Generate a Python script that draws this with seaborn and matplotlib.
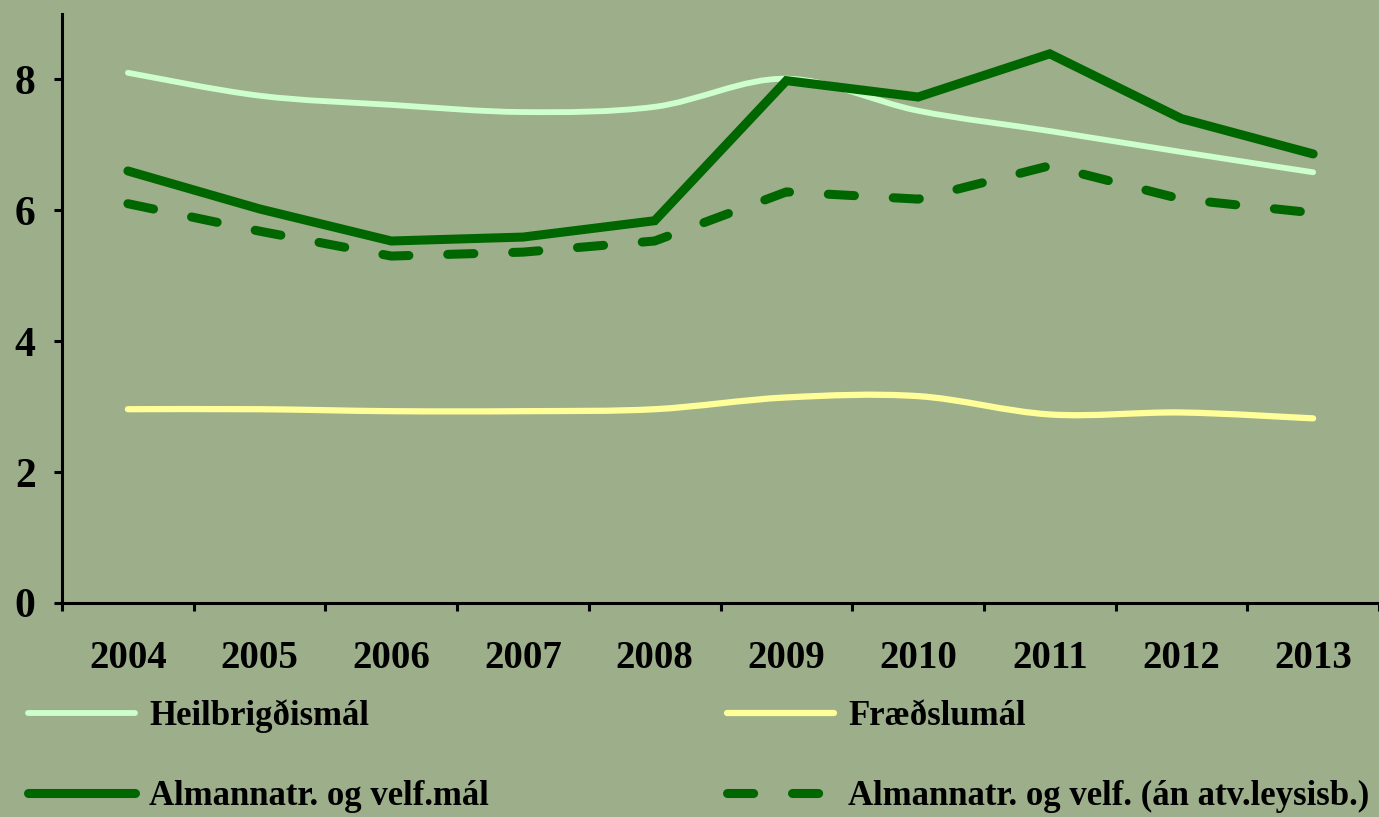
import numpy as np
import pandas as pd
import matplotlib
matplotlib.use("Agg")
import matplotlib.pyplot as plt
from matplotlib.path import Path
from matplotlib.patches import PathPatch
from matplotlib.lines import Line2D
import seaborn as sns

# values
years = ['2004', '2005', '2006', '2007', '2008', '2009', '2010', '2011', '2012', '2013']
heilbrigdismal = [8.10, 7.75, 7.61, 7.50, 7.58, 8.01, 7.52, 7.21, 6.89, 6.58]
fraedslumal = [2.96, 2.96, 2.93, 2.93, 2.96, 3.14, 3.16, 2.88, 2.91, 2.82]
almannatr = [6.60, 6.02, 5.53, 5.59, 5.84, 7.98, 7.73, 8.39, 7.40, 6.86]
almannatr_an = [6.10, 5.68, 5.30, 5.36, 5.53, 6.28, 6.17, 6.68, 6.17, 5.96]

labels = ['Heilbrigðismál', 'Fræðslumál',
          'Almannatr. og velf.mál', 'Almannatr. og velf. (án atv.leysisb.)']

BG = '#9cae8a'
C_LIGHT = '#ccffcc'
C_YELLOW = '#ffff99'
C_DARK = '#006600'

df = pd.DataFrame({'pos': np.arange(len(years)), 'year': years,
                   'heil': heilbrigdismal, 'fraed': fraedslumal,
                   'alm': almannatr, 'alm_an': almannatr_an})


def smooth_path(xs, ys):
    # Excel-style smoothed line: Catmull-Rom through the data points as cubic Beziers
    pts = np.column_stack([xs, ys]).astype(float)
    n = len(pts)
    verts = [pts[0]]
    codes = [Path.MOVETO]
    for i in range(n - 1):
        p0 = pts[max(i - 1, 0)]
        p1 = pts[i]
        p2 = pts[i + 1]
        p3 = pts[min(i + 2, n - 1)]
        verts += [p1 + (p2 - p0) / 6, p2 - (p3 - p1) / 6, p2]
        codes += [Path.CURVE4] * 3
    return Path(verts, codes)


sns.set_theme(style="ticks", rc={'axes.facecolor': BG, 'figure.facecolor': BG})
plt.rcParams['font.family'] = ['Liberation Serif', 'DejaVu Serif']
plt.rcParams['font.weight'] = 'bold'
plt.rcParams['text.color'] = 'black'
plt.rcParams['xtick.color'] = 'black'
plt.rcParams['ytick.color'] = 'black'
plt.rcParams['xtick.labelcolor'] = 'black'
plt.rcParams['ytick.labelcolor'] = 'black'

fig = plt.figure(figsize=(13.79, 8.17), dpi=100)
ax = fig.add_axes([0.045, 0.262, 0.955, 0.721])

# smoothed series
ax.add_patch(PathPatch(smooth_path(df['pos'], df['heil']), fill=False,
                       edgecolor=C_LIGHT, lw=4.2, capstyle='round', zorder=2))
ax.add_patch(PathPatch(smooth_path(df['pos'], df['fraed']), fill=False,
                       edgecolor=C_YELLOW, lw=4.5, capstyle='round', zorder=2))

# straight series
sns.lineplot(data=df, x='pos', y='alm', ax=ax, color=C_DARK, lw=6.5,
             solid_capstyle='round', solid_joinstyle='miter', zorder=3)
sns.lineplot(data=df, x='pos', y='alm_an', ax=ax, color=C_DARK, lw=6.5,
             linestyle=(0, (2.9, 4.3)), dash_capstyle='round', zorder=3)

ax.set_xlim(-0.5, len(years) - 0.5)
ax.set_ylim(0, 9)
ax.set_xlabel('')
ax.set_ylabel('')

ax.set_yticks([0, 2, 4, 6, 8])
ax.set_xticks(df['pos'])
ax.set_xticklabels(years)
ax.set_xticks(np.arange(-0.5, len(years), 1.0), minor=True)
ax.tick_params(axis='x', which='major', length=0, pad=27, labelsize=28)
ax.tick_params(axis='x', which='minor', length=6, width=2.2, direction='out')
ax.tick_params(axis='y', length=6, width=2.2, direction='out', pad=13, labelsize=30)
for lab in ax.get_xticklabels() + ax.get_yticklabels():
    lab.set_fontweight('bold')

sns.despine(ax=ax)
for side in ['left', 'bottom']:
    ax.spines[side].set_linewidth(2.2)
    ax.spines[side].set_color('black')

handles = [
    Line2D([], [], color=C_LIGHT, lw=4.2, solid_capstyle='round'),
    Line2D([], [], color=C_DARK, lw=6.5, solid_capstyle='round'),
    Line2D([], [], color=C_YELLOW, lw=4.5, solid_capstyle='round'),
    Line2D([], [], color=C_DARK, lw=6.5, linestyle=(0, (2.9, 4.3)), dash_capstyle='round'),
]
leg_labels = [labels[0], labels[2], labels[1], labels[3]]
fig.legend(handles, leg_labels, loc='upper left', bbox_to_anchor=(0.02, 0.144),
           ncol=2, frameon=False, prop={'size': 25, 'weight': 'bold'},
           handlelength=3.1, handletextpad=0.4, columnspacing=6.85,
           labelspacing=1.35, borderpad=0, borderaxespad=0)

fig.savefig('out.png', dpi=100, facecolor=BG)
